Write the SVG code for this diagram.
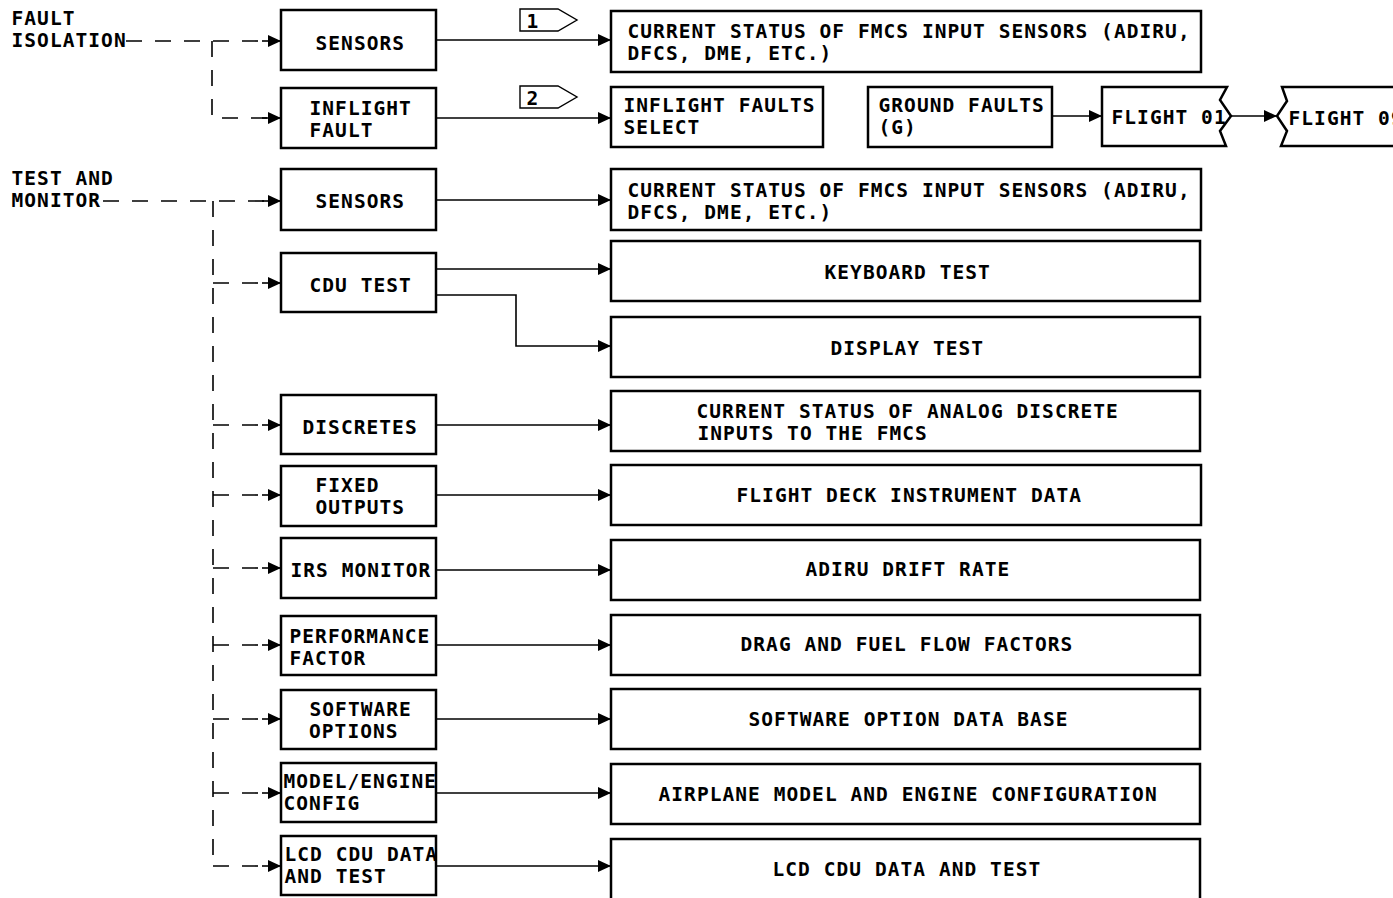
<svg xmlns="http://www.w3.org/2000/svg" width="1393" height="898" viewBox="0 0 1393 898">
<style>
text{font-family:"DejaVu Sans Mono","Liberation Mono",monospace;font-size:19.5px;font-weight:bold;letter-spacing:1.06px;fill:#000}
.box{fill:#fff;stroke:#000;stroke-width:2.5}
.ln{fill:none;stroke:#000;stroke-width:1.6}
.dash{fill:none;stroke:#000;stroke-width:1.6;stroke-dasharray:16 13}
.flag{fill:#fff;stroke:#000;stroke-width:1.4}
</style>
<defs>
<marker id="ah" markerUnits="userSpaceOnUse" markerWidth="14" markerHeight="14" refX="13" refY="6" orient="auto">
<path d="M0,0 L13,6 L0,12 z" fill="#000"/>
</marker>
</defs>
<rect width="1393" height="898" fill="#fff"/>

<g id="connectors">
<path class="dash" d="M126,41 H268"/>
<path class="dash" d="M212,41 V118 H268"/>
<path class="ln" d="M262,41 H281" marker-end="url(#ah)"/>
<path class="ln" d="M262,118 H281" marker-end="url(#ah)"/>
<path class="dash" d="M103,201 H268"/>
<path class="dash" d="M213,201 V866"/>
<path class="dash" d="M213,283 H268"/>
<path class="dash" d="M213,425 H268"/>
<path class="dash" d="M213,495 H268"/>
<path class="dash" d="M213,568 H268"/>
<path class="dash" d="M213,645 H268"/>
<path class="dash" d="M213,719 H268"/>
<path class="dash" d="M213,793 H268"/>
<path class="dash" d="M213,866 H268"/>
<path class="ln" d="M262,201 H281" marker-end="url(#ah)"/>
<path class="ln" d="M262,283 H281" marker-end="url(#ah)"/>
<path class="ln" d="M262,425 H281" marker-end="url(#ah)"/>
<path class="ln" d="M262,495 H281" marker-end="url(#ah)"/>
<path class="ln" d="M262,568 H281" marker-end="url(#ah)"/>
<path class="ln" d="M262,645 H281" marker-end="url(#ah)"/>
<path class="ln" d="M262,719 H281" marker-end="url(#ah)"/>
<path class="ln" d="M262,793 H281" marker-end="url(#ah)"/>
<path class="ln" d="M262,866 H281" marker-end="url(#ah)"/>
<path class="ln" d="M437,40 H611" marker-end="url(#ah)"/>
<path class="ln" d="M437,118 H611" marker-end="url(#ah)"/>
<path class="ln" d="M437,200 H611" marker-end="url(#ah)"/>
<path class="ln" d="M437,269 H611" marker-end="url(#ah)"/>
<path class="ln" d="M437,295 H516 V346 H611" marker-end="url(#ah)"/>
<path class="ln" d="M437,425 H611" marker-end="url(#ah)"/>
<path class="ln" d="M437,495 H611" marker-end="url(#ah)"/>
<path class="ln" d="M437,570 H611" marker-end="url(#ah)"/>
<path class="ln" d="M437,645 H611" marker-end="url(#ah)"/>
<path class="ln" d="M437,719 H611" marker-end="url(#ah)"/>
<path class="ln" d="M437,793 H611" marker-end="url(#ah)"/>
<path class="ln" d="M437,866 H611" marker-end="url(#ah)"/>
<path class="ln" d="M1052,116 H1102" marker-end="url(#ah)"/>
<path class="ln" d="M1231,116 H1277" marker-end="url(#ah)"/>
</g>

<g id="labels">
<text x="11.5" y="25">FAULT</text>
<text x="11.5" y="47">ISOLATION</text>
<text x="11.5" y="185">TEST AND</text>
<text x="11.5" y="207">MONITOR</text>
</g>

<g id="flag1">
<path class="flag" d="M520,9 H558 L577,20 L558,31 H520 Z"/>
<text x="526.5" y="28">1</text>
</g>
<g id="flag2">
<path class="flag" d="M520,86 H558 L577,97 L558,108 H520 Z"/>
<text x="526.5" y="105">2</text>
</g>

<g id="fi-sensors"><rect class="box" x="281" y="10" width="155" height="60"/><text x="315.5" y="50">SENSORS</text></g>
<g id="inflight-fault"><rect class="box" x="281" y="88" width="155" height="60"/><text x="309.5" y="115">INFLIGHT</text><text x="309.5" y="137">FAULT</text></g>
<g id="tm-sensors"><rect class="box" x="281" y="169" width="155" height="61"/><text x="315.5" y="208">SENSORS</text></g>
<g id="cdu-test"><rect class="box" x="281" y="253" width="155" height="59"/><text x="309.5" y="292">CDU TEST</text></g>
<g id="discretes"><rect class="box" x="281" y="395" width="155" height="59"/><text x="302.5" y="434">DISCRETES</text></g>
<g id="fixed-outputs"><rect class="box" x="281" y="466" width="155" height="60"/><text x="315.5" y="492">FIXED</text><text x="315.5" y="514">OUTPUTS</text></g>
<g id="irs-monitor"><rect class="box" x="281" y="538" width="155" height="60"/><text x="290.5" y="577">IRS MONITOR</text></g>
<g id="performance-factor"><rect class="box" x="281" y="616" width="155" height="59"/><text x="289.5" y="643">PERFORMANCE</text><text x="289.5" y="665">FACTOR</text></g>
<g id="software-options"><rect class="box" x="281" y="690" width="155" height="59"/><text x="309.5" y="716">SOFTWARE</text><text x="309" y="738">OPTIONS</text></g>
<g id="model-engine-config"><rect class="box" x="281" y="763" width="155" height="59"/><text x="283.5" y="788">MODEL/ENGINE</text><text x="283.5" y="810">CONFIG</text></g>
<g id="lcd-cdu-data-and-test"><rect class="box" x="281" y="836" width="155" height="59"/><text x="284.5" y="861">LCD CDU DATA</text><text x="284.5" y="883">AND TEST</text></g>

<g id="fi-current-status"><rect class="box" x="611" y="11" width="590" height="61"/><text x="627.5" y="38">CURRENT STATUS OF FMCS INPUT SENSORS (ADIRU,</text><text x="627.5" y="60">DFCS, DME, ETC.)</text></g>
<g id="inflight-faults-select"><rect class="box" x="611" y="87" width="212" height="60"/><text x="623.5" y="112">INFLIGHT FAULTS</text><text x="623.5" y="134">SELECT</text></g>
<g id="ground-faults"><rect class="box" x="868" y="87" width="184" height="60"/><text x="878.5" y="112">GROUND FAULTS</text><text x="878.5" y="134">(G)</text></g>
<g id="flight-01"><path class="box" d="M1227,87 H1102 V146 H1226 L1220,131 L1231,116 L1220,100 Z"/><text x="1111.5" y="124">FLIGHT 01</text></g>
<g id="flight-09"><path class="box" d="M1400,87 H1282 L1287,101 L1277,116 L1287,131 L1281,146 H1400"/><text x="1288.5" y="125">FLIGHT 09</text></g>
<g id="tm-current-status"><rect class="box" x="611" y="169" width="590" height="61"/><text x="627.5" y="197">CURRENT STATUS OF FMCS INPUT SENSORS (ADIRU,</text><text x="627.5" y="219">DFCS, DME, ETC.)</text></g>
<g id="keyboard-test"><rect class="box" x="611" y="241" width="589" height="60"/><text x="824.5" y="279">KEYBOARD TEST</text></g>
<g id="display-test"><rect class="box" x="611" y="317" width="589" height="60"/><text x="830.5" y="355">DISPLAY TEST</text></g>
<g id="analog-discrete"><rect class="box" x="611" y="391" width="589" height="60"/><text x="696.5" y="418">CURRENT STATUS OF ANALOG DISCRETE</text><text x="697.5" y="440">INPUTS TO THE FMCS</text></g>
<g id="flight-deck-data"><rect class="box" x="611" y="465" width="590" height="60"/><text x="736.5" y="502">FLIGHT DECK INSTRUMENT DATA</text></g>
<g id="adiru-drift-rate"><rect class="box" x="611" y="540" width="589" height="60"/><text x="805.5" y="576">ADIRU DRIFT RATE</text></g>
<g id="drag-fuel-flow"><rect class="box" x="611" y="615" width="589" height="60"/><text x="740.5" y="651">DRAG AND FUEL FLOW FACTORS</text></g>
<g id="software-option-db"><rect class="box" x="611" y="689" width="589" height="60"/><text x="748.5" y="726">SOFTWARE OPTION DATA BASE</text></g>
<g id="airplane-model"><rect class="box" x="611" y="764" width="589" height="60"/><text x="658.5" y="801">AIRPLANE MODEL AND ENGINE CONFIGURATION</text></g>
<g id="lcd-cdu-data"><rect class="box" x="611" y="839" width="589" height="70"/><text x="772.5" y="876">LCD CDU DATA AND TEST</text></g>
</svg>
